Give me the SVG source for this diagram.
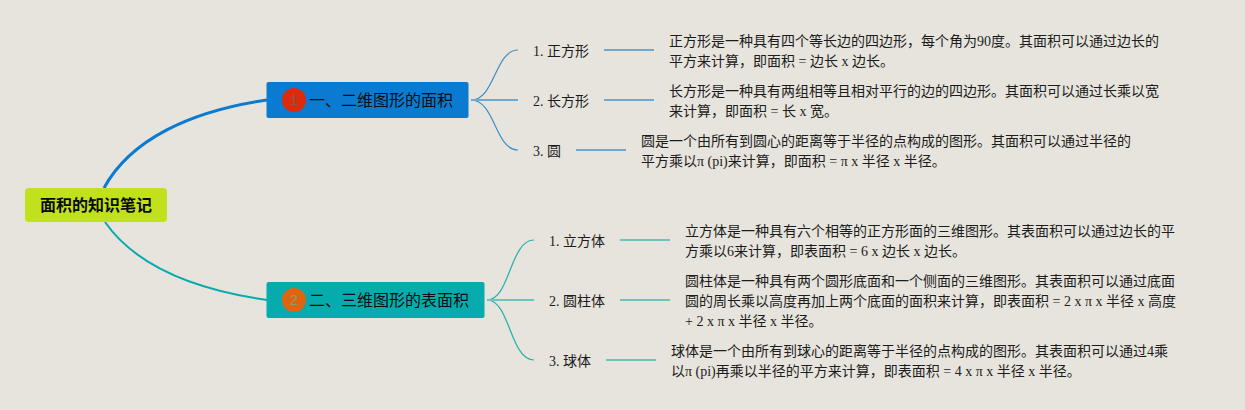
<svg xmlns="http://www.w3.org/2000/svg" width="1245" height="410" viewBox="0 0 1245 410">
<style>
text{font-family:"Liberation Serif","Noto Sans CJK SC",serif;font-size:14px;fill:#1c1c1c}
.topic{font-family:"Liberation Sans","Noto Sans CJK SC",sans-serif;font-size:16px;fill:#0d0d0d}
.root{font-family:"Liberation Sans","Noto Sans CJK SC",sans-serif;font-size:16px;font-weight:700;fill:#0a0a0a}
.num{font-family:"Liberation Sans",sans-serif;font-size:15px;text-anchor:middle}
.b{fill:none;stroke:#0a7bd0}
.t{fill:none;stroke:#05abad}
.bc{fill:none;stroke:#3d8fc8;stroke-width:1.2}
.tc{fill:none;stroke:#25b0aa;stroke-width:1.2}
.bl{fill:none;stroke:#70a8cf;stroke-width:2}
.tl{fill:none;stroke:#70c2bd;stroke-width:2}
</style>
<rect width="1245" height="410" fill="#e6e4dc"/>
<g id="connectors">
<path class="b" stroke-width="3" d="M104 188C130 140 190 111 267 100"/>
<path class="t" stroke-width="2" d="M105 222C135 265 190 289 267 300"/>
<path class="bc" d="M471 100C495 100 495 50 518 50"/>
<path class="bc" d="M471 100C495 100 495 150 518 150"/>
<path class="bl" d="M471 100H518M604 50H654M604 100H654M576 150H626"/>
<path class="tc" d="M487 300C510 300 510 240 534 240"/>
<path class="tc" d="M487 300C510 300 510 360 534 360"/>
<path class="tl" d="M487 300H534M620 240H670M620 300H670M606 360H656"/>
</g>
<g id="root"><rect x="25" y="188" width="142" height="34" rx="4" fill="#c1e11c"/><text class="root" x="40" y="211">面积的知识笔记</text></g>
<g id="topic1"><rect x="266.500" y="82" width="202" height="36" rx="2" fill="#0a7bd0"/><circle cx="294" cy="100" r="12" fill="#dc2a0c"/><text class="num" x="294" y="105" style="fill:#8a5a4a">1</text><text class="topic" x="309" y="106">一、二维图形的面积</text></g>
<g id="topic2"><rect x="266.500" y="282" width="218" height="36" rx="2" fill="#05abad"/><circle cx="294" cy="300" r="12" fill="#e0640f"/><text class="num" x="294" y="305" style="fill:#8f9a70">2</text><text class="topic" x="309" y="306">二、三维图形的表面积</text></g>
<g id="t1a"><text x="533" y="56">1. 正方形</text></g>
<g id="t1b"><text x="533" y="106">2. 长方形</text></g>
<g id="t1c"><text x="533" y="156">3. 圆</text></g>
<g id="t2a"><text x="549" y="246">1. 立方体</text></g>
<g id="t2b"><text x="549" y="306">2. 圆柱体</text></g>
<g id="t2c"><text x="549" y="366">3. 球体</text></g>
<g id="d1a"><text x="669" y="46">正方形是一种具有四个等长边的四边形，每个角为90度。其面积可以通过边长的</text><text x="669" y="66">平方来计算，即面积 = 边长 x 边长。</text></g>
<g id="d1b"><text x="669" y="96">长方形是一种具有两组相等且相对平行的边的四边形。其面积可以通过长乘以宽</text><text x="669" y="116">来计算，即面积 = 长 x 宽。</text></g>
<g id="d1c"><text x="641" y="146">圆是一个由所有到圆心的距离等于半径的点构成的图形。其面积可以通过半径的</text><text x="641" y="166">平方乘以π (pi)来计算，即面积 = π x 半径 x 半径。</text></g>
<g id="d2a"><text x="685" y="236">立方体是一种具有六个相等的正方形面的三维图形。其表面积可以通过边长的平</text><text x="685" y="256">方乘以6来计算，即表面积 = 6 x 边长 x 边长。</text></g>
<g id="d2b"><text x="685" y="286">圆柱体是一种具有两个圆形底面和一个侧面的三维图形。其表面积可以通过底面</text><text x="685" y="306">圆的周长乘以高度再加上两个底面的面积来计算，即表面积 = 2 x π x 半径 x 高度</text><text x="685" y="326">+ 2 x π x 半径 x 半径。</text></g>
<g id="d2c"><text x="671" y="356">球体是一个由所有到球心的距离等于半径的点构成的图形。其表面积可以通过4乘</text><text x="671" y="376">以π (pi)再乘以半径的平方来计算，即表面积 = 4 x π x 半径 x 半径。</text></g>
</svg>
